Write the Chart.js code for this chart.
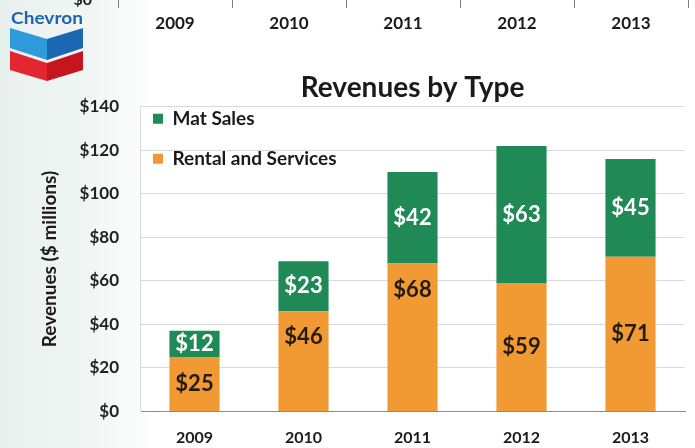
<!DOCTYPE html>
<html>
<head>
<meta charset="utf-8">
<script src="https://cdn.jsdelivr.net/npm/chart.js@4.4.1/dist/chart.umd.min.js"></script>
<style>
  html, body { margin: 0; padding: 0; }
  body {
    width: 695px; height: 448px; overflow: hidden; position: relative;
    background: linear-gradient(90deg, #e8f0ed 0px, #f1f6f4 90px, #ffffff 160px);
  }
  #strip { position: absolute; left: 0; top: -60px; }
  #chart { position: absolute; left: 0; top: 0; }
  #logo { position: absolute; left: 0; top: 0; }
</style>
</head>
<body>
<canvas id="strip" width="695" height="100"></canvas>
<canvas id="chart" width="695" height="464"></canvas>
<svg id="logo" width="95" height="90" viewBox="0 0 95 90">
  <text x="11" y="24" font-family="Lato" font-weight="bold" font-size="17" fill="#1e64b0" textLength="72" lengthAdjust="spacingAndGlyphs">Chevron</text>
  <polygon points="10,28 47,39 47,60 10,48" fill="#2e9cdb"/>
  <polygon points="47,39 83,28 83,48 47,60" fill="#1b67b3"/>
  <polygon points="10,51 47,63 47,81 10,70" fill="#e3262f"/>
  <polygon points="47,63 83,51 83,70 47,81" fill="#c5161f"/>
</svg>
<script>
const years = ['2009', '2010', '2011', '2012', '2013'];
const rentalAndServices = [25, 46, 68, 59, 71];
const matSales = [12, 23, 42, 63, 45];
const yTicks = [0, 20, 40, 60, 80, 100, 120, 140];

const ink = '#1a1a1a';
const green = '#1f8a56';
const orange = '#f19a33';

// axis left over from the chart above, only its bottom edge shows
new Chart(document.getElementById('strip'), {
  type: 'bar',
  data: { labels: years, datasets: [{ data: [] }] },
  options: {
    responsive: false,
    animation: false,
    layout: { padding: { left: 0, right: 7, top: 0, bottom: 0 } },
    plugins: { legend: { display: false }, tooltip: { enabled: false } },
    scales: {
      x: {
        grid: { offset: true, drawOnChartArea: false, tickLength: 8, color: '#808080' },
        border: { display: false },
        ticks: { padding: 5.8, color: ink, font: { family: 'Lato', size: 17, weight: 'bold' } }
      },
      y: {
        min: 0, max: 20,
        afterFit: s => { s.width = 118; },
        grid: { display: false },
        border: { display: false },
        ticks: { stepSize: 20, padding: 18, color: ink, callback: v => v === 0 ? '$0' : '', font: { family: 'Lato', size: 16, weight: 'bold' } }
      }
    }
  }
});

const plotBackground = {
  id: 'plotBackground',
  beforeDraw(chart) {
    const { ctx, chartArea: a } = chart;
    ctx.save();
    ctx.fillStyle = '#ffffff';
    ctx.fillRect(a.left, a.top, a.right - a.left, a.bottom - a.top);
    ctx.restore();
  }
};

// legend sits inside the plot, a bit up and left of where chartArea puts it
const legendNudge = {
  id: 'legendNudge',
  afterLayout(chart) {
    chart.legend.left = chart.chartArea.left - 8;
    chart.legend.top = chart.chartArea.top - 18.5;
  }
};

const barLabels = {
  id: 'barLabels',
  afterDatasetsDraw(chart, args, opts) {
    const { ctx } = chart;
    ctx.save();
    ctx.font = 'bold 22px Lato';
    ctx.textAlign = 'center';
    ctx.textBaseline = 'middle';
    chart.data.datasets.forEach((ds, di) => {
      const meta = chart.getDatasetMeta(di);
      meta.data.forEach((bar, i) => {
        const lift = (opts.lift[di] || [])[i] || 0;
        ctx.fillStyle = opts.colors[di];
        ctx.fillText('$' + ds.data[i], bar.x, (bar.y + bar.base) / 2 - lift);
      });
    });
    ctx.restore();
  }
};

new Chart(document.getElementById('chart'), {
  type: 'bar',
  data: {
    labels: years,
    datasets: [
      { label: 'Rental and Services', data: rentalAndServices, backgroundColor: orange },
      { label: 'Mat Sales', data: matSales, backgroundColor: green }
    ]
  },
  options: {
    responsive: false,
    animation: false,
    categoryPercentage: 1,
    barPercentage: 0.46,
    layout: { padding: { left: 36, right: 10, top: 0, bottom: 0 } },
    plugins: {
      title: {
        display: true,
        text: 'Revenues by Type',
        fullSize: false,
        color: ink,
        font: { family: 'Lato', size: 28, weight: 'bold' },
        padding: { top: 71.2, bottom: 1.9 }
      },
      legend: {
        position: 'chartArea',
        align: 'start',
        reverse: true,
        labels: {
          boxWidth: 10, boxHeight: 10, padding: 21,
          color: ink,
          font: { family: 'Lato', size: 19, weight: 'bold' }
        }
      },
      tooltip: { enabled: false },
      barLabels: {
        colors: ['#231a10', '#ffffff'],
        lift: [[0, 24, 47, 0, 0], []]
      }
    },
    scales: {
      x: {
        stacked: true,
        grid: { display: false, drawTicks: false },
        border: { color: '#8c8c8c', width: 1 },
        ticks: { padding: 16.7, maxRotation: 0, color: ink, font: { family: 'Lato', size: 16, weight: 'bold' } }
      },
      y: {
        stacked: true,
        min: yTicks[0],
        max: yTicks[yTicks.length - 1],
        afterFit: s => { s.width = 104; },
        afterBuildTicks: s => { s.ticks = yTicks.map(v => ({ value: v })); },
        grid: { color: '#d9d9d9', drawTicks: false },
        border: { color: '#d9d9d9' },
        ticks: { padding: 21, color: '#222222', callback: v => '$' + v, font: { family: 'Lato', size: 17, weight: 'bold' } },
        title: {
          display: true,
          text: 'Revenues ($ millions)',
          color: ink,
          font: { family: 'Lato', size: 19, weight: 'bold' },
          padding: { top: 2, bottom: 20 }
        }
      }
    }
  },
  plugins: [plotBackground, legendNudge, barLabels]
});
</script>
</body>
</html>
